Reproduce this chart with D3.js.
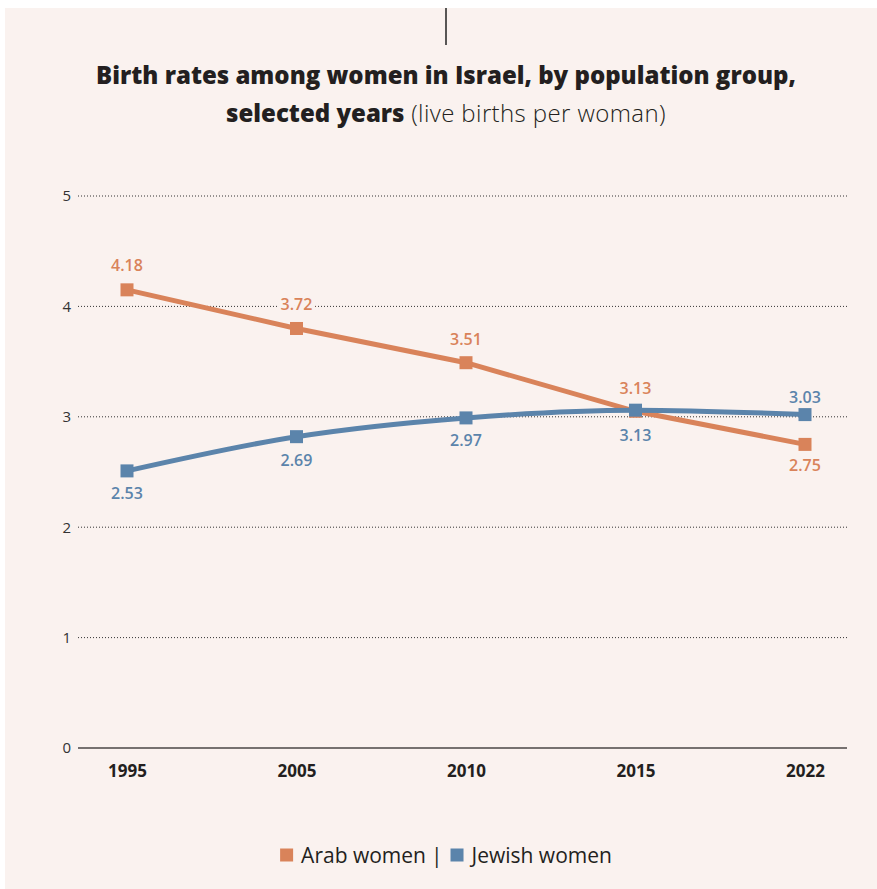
<!DOCTYPE html>
<html>
<head>
<meta charset="utf-8">
<script src="https://cdn.jsdelivr.net/npm/d3@7"></script>
<style>
  html, body { margin: 0; padding: 0; background: #ffffff; }
  svg { display: block; }
</style>
</head>
<body>
<svg id="chart" width="877" height="889"></svg>
<script>
// years on the x axis
var years = ["1995", "2005", "2010", "2015", "2022"];
// values as they sit on the chart
var arabValues = [4.15, 3.8, 3.49, 3.05, 2.75];
var jewishValues = [2.51, 2.82, 2.99, 3.06, 3.02];
// printed labels
var arabLabels = ["4.18", "3.72", "3.51", "3.13", "2.75"];
var jewishLabels = ["2.53", "2.69", "2.97", "3.13", "3.03"];
var yTicks = [0, 1, 2, 3, 4, 5];

var orange = "#d9835a", blue = "#5b84ab", bg = "#faf2ef";
var font = "'Open Sans', sans-serif";

var svg = d3.select("#chart");
var W = +svg.attr("width"), H = +svg.attr("height");

// background panel
svg.append("rect").attr("x", 5).attr("y", 8).attr("width", W - 5).attr("height", H - 8).attr("fill", bg);

// little tick at the top
svg.append("line").attr("x1", 446).attr("x2", 446).attr("y1", 8).attr("y2", 45)
	.attr("stroke", "#222").attr("stroke-width", 1.5);

// title
svg.append("text").attr("x", 446).attr("y", 84).attr("text-anchor", "middle")
	.style("font-family", font).style("font-weight", 800).style("font-size", "24px").attr("fill", "#231f20")
	.text("Birth rates among women in Israel, by population group,");
var t2 = svg.append("text").attr("x", 446).attr("y", 122).attr("text-anchor", "middle")
	.style("font-family", font).style("font-size", "24px").attr("fill", "#231f20");
t2.append("tspan").style("font-weight", 800).text("selected years");
t2.append("tspan").style("font-weight", 300).style("letter-spacing", "0.4px").text(" (live births per woman)");

var margin = {left: 78, right: 30, top: 196, bottom: 141};
var x = d3.scalePoint().domain(years).range([127, 805]);
var y = d3.scaleLinear().domain([0, 5]).range([H - margin.bottom, margin.top]);

// grid
var grid = svg.append("g");
grid.selectAll("line").data(yTicks.filter(function(d){ return d > 0; })).enter().append("line")
	.attr("x1", margin.left).attr("x2", W - margin.right)
	.attr("y1", function(d){ return y(d); }).attr("y2", function(d){ return y(d); })
	.attr("stroke", "#333").attr("stroke-width", 1).attr("stroke-dasharray", "1,2");

// y axis labels
var yAxis = svg.append("g").attr("transform", "translate(" + (margin.left - 7) + ",0)")
	.call(d3.axisLeft(y).tickValues(yTicks).tickSize(0).tickPadding(0).tickFormat(d3.format("d")));
yAxis.select(".domain").remove();
yAxis.selectAll("text").style("font-family", font).style("font-size", "15px").attr("fill", "#333");

// baseline + x labels
var xAxis = svg.append("g").attr("transform", "translate(0," + y(0) + ")")
	.call(d3.axisBottom(x).tickSize(0).tickPadding(17));
xAxis.select(".domain").remove();
xAxis.append("line").attr("x1", margin.left).attr("x2", W - margin.right)
	.attr("stroke", "#4a4646").attr("stroke-width", 1.5);
xAxis.selectAll("text").style("font-family", font).style("font-weight", 700).style("font-size", "17px").attr("fill", "#231f20");

var labelLayer = [];
function drawSeries(values, labels, color, curve, offsets){
	var line = d3.line().x(function(d, i){ return x(years[i]); }).y(function(d){ return y(d); }).curve(curve);
	svg.append("path").datum(values).attr("d", line).attr("fill", "none")
		.attr("stroke", color).attr("stroke-width", 5);
	svg.append("g").selectAll("rect").data(values).enter().append("rect")
		.attr("x", function(d, i){ return x(years[i]) - 6.5; })
		.attr("y", function(d){ return y(d) - 6.5; })
		.attr("width", 13).attr("height", 13).attr("fill", color);
	labelLayer.push({values: values, labels: labels, color: color, offsets: offsets});
}

drawSeries(arabValues, arabLabels, orange, d3.curveLinear, [-25, -24, -24, -23, 21]);
drawSeries(jewishValues, jewishLabels, blue, d3.curveMonotoneX, [22, 23, 22, 25, -18]);

// value labels on top, with a halo so gridlines break behind them
labelLayer.forEach(function(s){
	svg.append("g").selectAll("text").data(s.values).enter().append("text")
		.attr("x", function(d, i){ return x(years[i]); })
		.attr("y", function(d, i){ return y(d) + s.offsets[i]; })
		.attr("text-anchor", "middle").attr("dominant-baseline", "central")
		.style("font-family", font).style("font-weight", 600).style("font-size", "16px")
		.attr("fill", s.color).attr("stroke", bg).attr("stroke-width", 6).style("paint-order", "stroke")
		.text(function(d, i){ return s.labels[i]; });
});

// legend, centred under the chart
var legend = svg.append("g").attr("transform", "translate(0,855)");
var items = [
	{label: "Arab women", color: orange},
	{label: "Jewish women", color: blue}
];
var cx = 0;
items.forEach(function(it, k){
	if(k > 0){
		var sep = legend.append("text").attr("x", cx + 5).attr("y", 0).attr("dominant-baseline", "central")
			.style("font-family", font).style("font-size", "21px").attr("fill", "#231f20").text("|");
		cx += 5 + sep.node().getComputedTextLength() + 8;
	}
	legend.append("rect").attr("x", cx).attr("y", -6.5).attr("width", 13).attr("height", 13).attr("fill", it.color);
	var t = legend.append("text").attr("x", cx + 21).attr("y", 0).attr("dominant-baseline", "central")
		.style("font-family", font).style("font-size", "21px").attr("fill", "#231f20").text(it.label);
	cx += 21 + t.node().getComputedTextLength();
});
legend.attr("transform", "translate(" + (446 - cx / 2) + ",855)");
</script>
</body>
</html>
